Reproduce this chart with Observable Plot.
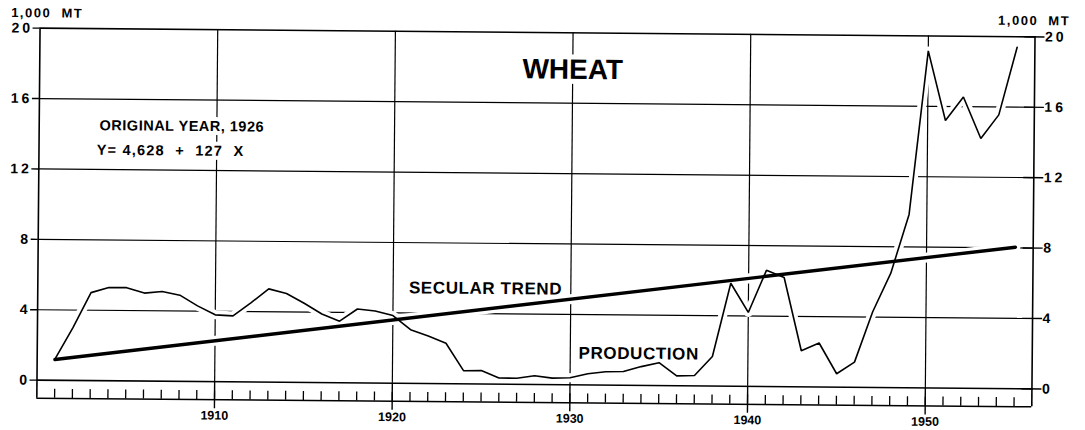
<!DOCTYPE html>
<html><head><meta charset="utf-8">
<script src="https://cdn.jsdelivr.net/npm/d3@7"></script>
<script src="https://cdn.jsdelivr.net/npm/@observablehq/plot@0.6"></script>
<style>
html,body{margin:0;padding:0;background:#fff;overflow:hidden;}
#chart svg{display:block;overflow:visible;transform:rotate(0.5deg);transform-origin:535px 208px;}
</style></head><body><div id="chart"></div>
<script>
const years = [1901,1902,1903,1904,1905,1906,1907,1908,1909,1910,
  1911,1912,1913,1914,1915,1916,1917,1918,1919,1920,
  1921,1922,1923,1924,1925,1926,1927,1928,1929,1930,
  1931,1932,1933,1934,1935,1936,1937,1938,1939,1940,
  1941,1942,1943,1944,1945,1946,1947,1948,1949,1950,
  1951,1952,1953,1954,1955];
const production = [1.2,3.0,5.0,5.3,5.3,5.0,5.1,4.9,4.3,3.8,
  3.75,4.5,5.3,5.05,4.5,3.9,3.5,4.2,4.1,3.85,
  3.05,2.7,2.3,0.75,0.77,0.35,0.35,0.5,0.37,0.4,
  0.64,0.76,0.78,1.07,1.3,0.56,0.59,1.68,5.85,4.2,
  6.6,6.2,2.05,2.5,0.76,1.43,4.3,6.5,9.85,19.15,
  15.2,16.55,14.2,15.55,19.4];
const trendYears = [1901, 1955];
const trendValues = [1.18, 8.04];
const yTicks = [0, 4, 8, 12, 16, 20];
const gridYTicks = [4, 8, 12, 16];
const decadeTicks = [1910, 1920, 1930, 1940, 1950];
const xDomain = [1900, 1956];
const yDomain = [0, 20];
const unitLabel = "1,000\u00a0\u00a0MT";
const titleLabel = [{x: 1930, y: 17.9, text: "WHEAT"}];
const formulaLabels = [
  {x: 1903.4, y: 14.5, text: "ORIGINAL YEAR, 1926"},
  {x: 1903.25, y: 13.1, text: "Y=\u00a04,628\u00a0\u00a0+\u00a0\u00a0127\u00a0\u00a0X"}
];
const seriesLabels = [
  {x: 1925.2, y: 5.43, text: "SECULAR TREND"},
  {x: 1933.85, y: 1.8, text: "PRODUCTION"}
];

const prodData = years.map((y, i) => ({year: y, value: production[i]}));
const trendData = trendYears.map((y, i) => ({year: y, value: trendValues[i]}));
const font = "Liberation Sans, Arial, Helvetica, sans-serif";

const chart = Plot.plot({
  width: 1085,
  height: 430,
  marginLeft: 38,
  marginRight: 52,
  marginTop: 32,
  marginBottom: 46,
  style: {fontFamily: font, fontWeight: "bold", background: "white", color: "black", overflow: "visible"},
  x: {domain: xDomain, axis: null},
  y: {domain: yDomain, axis: null},
  marks: [
    Plot.gridY(gridYTicks, {stroke: "black", strokeOpacity: 1, strokeWidth: 1.2}),
    Plot.gridX(decadeTicks, {stroke: "black", strokeOpacity: 1, strokeWidth: 1.2}),
    Plot.text(formulaLabels, {x: "x", y: "y", text: "text", textAnchor: "start", fontSize: 14.5, fontWeight: "bold", fill: "black", stroke: "white", strokeWidth: 8, paintOrder: "stroke"}),
    Plot.text(titleLabel, {x: "x", y: "y", text: "text", fontSize: 28, fontWeight: "bold", fill: "black", stroke: "white", strokeWidth: 10, paintOrder: "stroke"}),
    Plot.text(seriesLabels, {x: "x", y: "y", text: "text", fontSize: 17, fontWeight: "bold", fill: "black", stroke: "white", strokeWidth: 6, paintOrder: "stroke"}),
    Plot.line(prodData, {x: "year", y: "value", stroke: "white", strokeWidth: 9}),
    Plot.line(trendData, {x: "year", y: "value", stroke: "white", strokeWidth: 10}),
    Plot.frame({stroke: "black", strokeWidth: 1.6}),
    Plot.line(prodData, {x: "year", y: "value", stroke: "black", strokeWidth: 1.6, strokeLinejoin: "miter"}),
    Plot.line(trendData, {x: "year", y: "value", stroke: "black", strokeWidth: 3.4}),
    // left axis
    Plot.axisY({anchor: "left", ticks: yTicks, tickSize: 7, tickPadding: 0, fontSize: 14, fontWeight: "bold", label: null, strokeWidth: 1.4}),
    // right axis
    Plot.axisY({anchor: "right", ticks: yTicks, tickSize: 20, dx: -11, tickFormat: () => "", label: null, strokeWidth: 1.4}),
    Plot.axisY({anchor: "right", ticks: yTicks, tickSize: 0, tickPadding: 10, fontSize: 14, fontWeight: "bold", label: null}),
    // bottom year scale
    Plot.ruleY([0], {dy: 18, stroke: "black", strokeWidth: 1.5}),
    Plot.axisX({ticks: years, tickSize: 9, dy: 9, tickFormat: () => "", label: null, strokeWidth: 1.3}),
    Plot.axisX({ticks: xDomain, tickSize: 18, tickFormat: () => "", label: null, strokeWidth: 1.6}),
    Plot.axisX({ticks: decadeTicks, tickSize: 27, tickFormat: () => "", label: null, strokeWidth: 1.4}),
    Plot.axisX({ticks: decadeTicks, tickSize: 0, tickPadding: 29, tickFormat: d => String(d), fontSize: 12.5, fontWeight: "bold", label: null}),
    // unit labels
    Plot.text([unitLabel], {frameAnchor: "top-left", textAnchor: "middle", lineAnchor: "middle", dx: 7, dy: -15, fontSize: 13, fontWeight: "bold", fill: "black"}),
    Plot.text([unitLabel], {frameAnchor: "top-right", textAnchor: "middle", lineAnchor: "middle", dx: -1, dy: -16, fontSize: 13, fontWeight: "bold", fill: "black"})
  ]
});
document.getElementById("chart").appendChild(chart);

const svg = d3.select(chart);
svg.selectAll('[aria-label="y-axis tick label"] text').style("letter-spacing", "3px");
svg.selectAll("text").each(function() {
  const t = this.textContent;
  if (t === unitLabel) d3.select(this).style("letter-spacing", "1.5px");
  if (t === "ORIGINAL YEAR, 1926") d3.select(this).style("letter-spacing", "0.5px");
  if (t.startsWith("Y=")) d3.select(this).style("letter-spacing", "1.2px");
  if (t === "SECULAR TREND" || t === "PRODUCTION") d3.select(this).style("letter-spacing", "0.6px");
});
</script></body></html>
